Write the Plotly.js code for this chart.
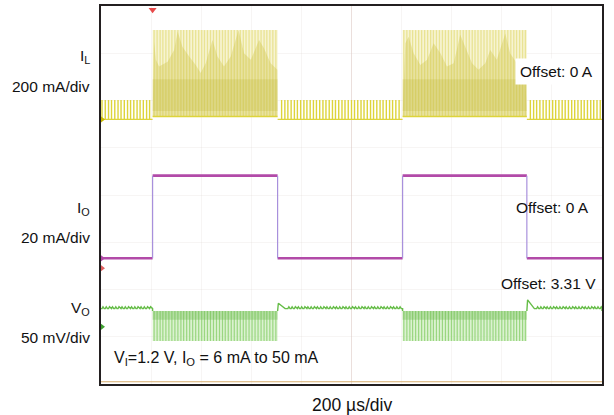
<!DOCTYPE html>
<html><head><meta charset="utf-8">
<script src="https://cdn.plot.ly/plotly-3.0.1.min.js"></script>
<style>html,body{margin:0;padding:0;background:#fff}#chart{width:614px;height:415px}</style>
</head><body><div id="chart"></div>
<script>
// Horizontal axis: time in µs (10 div x 200 µs). Vertical axis: screen divisions (8 div).
const timeRange = [0, 2000];
const divRange = [0, 8];

// Load step instants (µs): rise, fall, rise, fall
const loadEdgesT = [206, 705, 1204, 1700];

// I_O trace levels (div)
const ioLowDiv = 2.66;
const ioHighDiv = 4.41;

// I_L trace
const ilBaseDiv = 5.60;
const ilLightPeakDiv = 6.01;
const ilBurstTopDiv = 7.49;
const ilBurstBottomDiv = 5.66;
const ilCoreTopDiv = 6.45;
const ilCoreBottomDiv = 5.78;
const ilLightT = [4,17,30,42,55,68,80,93,106,118,131,144,156,169,182,194,
  721,734,746,759,772,784,797,810,822,835,848,860,873,886,898,911,924,936,949,962,974,987,
  1000,1012,1025,1038,1050,1063,1076,1088,1101,1114,1126,1139,1152,1164,1177,1190,
  1714,1727,1739,1752,1765,1777,1790,1803,1815,1828,1841,1853,1866,1879,1891,1904,1917,1929,1942,1955,1967,1980,1993];
const burstT = [212,224,236,247,259,271,283,295,307,319,330,342,354,366,378,390,402,413,425,437,449,461,473,485,496,508,520,532,544,556,568,579,591,603,615,627,639,651,662,674,686,698,
  1209,1221,1233,1244,1256,1268,1280,1292,1304,1316,1327,1339,1351,1363,1375,1387,1399,1410,1422,1434,1446,1458,1470,1482,1493,1505,1517,1529,1541,1553,1565,1576,1588,1600,1612,1624,1636,1648,1659,1671,1683,1694];
const ilEnvT1 = [212,219,232,266,292,306,325,352,378,398,418,445,465,491,518,549,571,598,631,651,677,704];
const ilEnvV1 = [7.24,6.86,6.72,6.82,7.07,7.46,7.14,6.93,6.75,6.58,6.79,7.28,6.93,6.72,6.93,7.49,7.00,6.86,7.28,7.10,6.79,6.65];
const ilEnvT2 = [1215,1228,1248,1275,1302,1328,1355,1381,1408,1434,1454,1481,1507,1534,1554,1580,1614,1633,1660,1693];
const ilEnvV2 = [7.21,7.35,7.00,6.75,6.86,7.21,7.00,6.72,6.79,7.39,7.14,6.79,6.65,6.79,7.07,6.86,7.42,7.00,6.79,6.65];

// V_O trace
const voBaseDiv = 1.595;
const voRippleDiv = 1.635;
const voBurstTopDiv = 1.545;
const voBurstBottomDiv = 0.91;
const voBandBottomDiv = 1.36;
const voSpikeV = [1.71, 1.78];

// Labels
const chLabels = ['I<sub>L</sub>', 'I<sub>O</sub>', 'V<sub>O</sub>'];
const scaleLabels = ['200 mA/div', '20 mA/div', '50 mV/div'];
const offsetLabels = ['Offset: 0 A', 'Offset: 0 A', 'Offset: 3.31 V'];
const caption = 'V<sub>I</sub>=1.2 V, I<sub>O</sub> = 6 mA to 50 mA';
const xLabel = '200 \u00b5s/div';

const C = {
  il: '#ddd43a', ilFill: '#f7f4d2', ilStripe: '#e9e394',
  ilEnv: 'rgba(205,195,70,0.36)', ilCore: 'rgba(190,180,50,0.24)',
  io: '#b24aa8', ioEdge: '#a890dc',
  vo: '#66bd48', voFill: 'rgba(190,232,170,0.55)', voStripe: '#9ad680', voBand: 'rgba(110,185,80,0.35)'
};

const traces = [];
const bursts = [[loadEdgesT[0], loadEdgesT[1]], [loadEdgesT[2], loadEdgesT[3]]];
const quiet = [[timeRange[0], loadEdgesT[0], null], [loadEdgesT[1], loadEdgesT[2], voSpikeV[0]], [loadEdgesT[3], timeRange[1], voSpikeV[1]]];

// ---- I_L ----
bursts.forEach(([a, b]) => {
  traces.push({x:[a,a,b,b], y:[ilBurstBottomDiv,ilBurstTopDiv,ilBurstTopDiv,ilBurstBottomDiv], fill:'toself', fillcolor:C.ilFill, mode:'lines', line:{width:0}});
});
{
  const x = [], y = [];
  burstT.forEach(t => { x.push(t, t, null); y.push(ilBurstBottomDiv, ilBurstTopDiv, null); });
  traces.push({x, y, mode:'lines', line:{color:C.ilStripe, width:1.3}});
}
[[ilEnvT1, ilEnvV1, bursts[0]], [ilEnvT2, ilEnvV2, bursts[1]]].forEach(([T, V, [a, b]]) => {
  traces.push({x:[a, ...T, b], y:[ilBurstBottomDiv, ...V, ilBurstBottomDiv], fill:'toself', fillcolor:C.ilEnv, mode:'lines', line:{width:0}});
  traces.push({x:[a,a,b,b], y:[ilCoreBottomDiv,ilCoreTopDiv,ilCoreTopDiv,ilCoreBottomDiv], fill:'toself', fillcolor:C.ilCore, mode:'lines', line:{width:0}});
  traces.push({x:[a, b], y:[ilBurstBottomDiv, ilBurstBottomDiv], mode:'lines', line:{color:C.il, width:1.5}});
});
{
  const x = [], y = [];
  quiet.forEach(([a, b]) => { x.push(a, b, null); y.push(ilBaseDiv, ilBaseDiv, null); });
  ilLightT.forEach(t => { x.push(t, t, null); y.push(ilBaseDiv, ilLightPeakDiv, null); });
  traces.push({x, y, mode:'lines', line:{color:C.il, width:1.4}});
}

// ---- I_O ----
{
  const x = [], y = [];
  const lv = [ioLowDiv, ioHighDiv, ioLowDiv, ioHighDiv, ioLowDiv];
  const pts = [timeRange[0], ...loadEdgesT, timeRange[1]];
  for (let i = 0; i < pts.length - 1; i++) { x.push(pts[i], pts[i+1], null); y.push(lv[i], lv[i], null); }
  traces.push({x, y, mode:'lines', line:{color:C.io, width:2.6}});
  const ex = [], ey = [];
  loadEdgesT.forEach(t => { ex.push(t, t, null); ey.push(ioLowDiv, ioHighDiv, null); });
  traces.push({x:ex, y:ey, mode:'lines', line:{color:C.ioEdge, width:1.2}});
}

// ---- V_O ----
bursts.forEach(([a, b]) => {
  traces.push({x:[a,a,b,b], y:[voBurstBottomDiv,voBurstTopDiv,voBurstTopDiv,voBurstBottomDiv], fill:'toself', fillcolor:C.voFill, mode:'lines', line:{width:0}});
});
{
  const x = [], y = [];
  burstT.forEach(t => { x.push(t, t, null); y.push(voBurstBottomDiv, voBurstTopDiv, null); });
  traces.push({x, y, mode:'lines', line:{color:C.voStripe, width:1.2}});
}
bursts.forEach(([a, b]) => {
  traces.push({x:[a,a,b,b], y:[voBandBottomDiv,voBurstTopDiv,voBurstTopDiv,voBandBottomDiv], fill:'toself', fillcolor:C.voBand, mode:'lines', line:{width:0}});
});
{
  const x = [], y = [];
  quiet.forEach(([a, b, spike]) => {
    if (spike !== null) { x.push(a, a + 3, a + 30); y.push(voBurstTopDiv, spike, voBaseDiv); }
    else { x.push(a); y.push(voBaseDiv); }
    ilLightT.filter(t => t > (spike !== null ? a + 30 : a) && t < b - 4).forEach(t => { x.push(t, t + 4, t + 9); y.push(voBaseDiv, voRippleDiv, voBaseDiv); });
    x.push(b, b, null); y.push(voBaseDiv, voBurstTopDiv, null);
  });
  traces.push({x, y, mode:'lines', line:{color:C.vo, width:1.4}});
}

// channel markers
traces.push({x:[0,0,0,0], y:[ilBaseDiv, ioLowDiv, 2.45, 1.21], mode:'markers', cliponaxis:false,
  marker:{symbol:'triangle-right', size:8, color:['#c8b800', C.io, '#e06060', '#3fa030']}});
traces.push({x:[loadEdgesT[0]], y:[7.92], mode:'markers', cliponaxis:false, marker:{symbol:'triangle-down', size:7, color:'#e84a4a'}});

const font = {family:'Arial, "Liberation Sans", sans-serif', size:15.5, color:'#111'};
const L = 101, W = 501, T = 6, H = 378;
const px = v => (v - L) / W, py = v => (384 - v) / H;
const ann = [];
const chY = [57, 208, 308], scY = [86, 237, 337];
chLabels.forEach((s, i) => ann.push({text:s, x:px(92), y:py(chY[i]), xanchor:'right', yanchor:'middle'}));
scaleLabels.forEach((s, i) => ann.push({text:s, x:px(92), y:py(scY[i]), xanchor:'right', yanchor:'middle'}));
const offX = [556, 552, 548.5], offY = [71, 207, 283];
offsetLabels.forEach((s, i) => ann.push({text:s, x:px(offX[i]), y:py(offY[i]), xanchor:'center', yanchor:'middle',
  bgcolor: i === 0 ? '#ffffff' : 'rgba(0,0,0,0)', borderpad: i === 0 ? 4 : 0}));
ann.push({text:caption, x:px(112), y:py(358), xanchor:'left', yanchor:'middle', font:{...font, size:16}});
ann.push({text:xLabel, x:px(352), y:py(405), xanchor:'center', yanchor:'middle', font:{...font, size:17.5}});
ann.forEach(a => { a.xref = 'paper'; a.yref = 'paper'; a.showarrow = false; if (!a.font) a.font = font; });

const layout = {
  width:614, height:415,
  margin:{l:L, r:614 - L - W, t:T, b:415 - T - H},
  paper_bgcolor:'#ffffff', plot_bgcolor:'#ffffff',
  showlegend:false,
  xaxis:{range:timeRange, dtick:200, showticklabels:false, ticks:'', zeroline:false,
    showgrid:true, gridcolor:'rgba(215,205,200,0.2)', showline:true, mirror:true, linecolor:'#231f20', linewidth:2},
  yaxis:{range:divRange, dtick:1, showticklabels:false, ticks:'', zeroline:false,
    showgrid:true, gridcolor:'rgba(215,205,200,0.2)', showline:true, mirror:true, linecolor:'#231f20', linewidth:2},
  shapes:[
    {type:'line', xref:'x', yref:'paper', x0:1000, x1:1000, y0:0, y1:1, line:{color:'rgba(225,195,190,0.45)', width:1}, layer:'below'},
    {type:'line', xref:'paper', yref:'paper', x0:0, x1:1, y0:0.006, y1:0.006, line:{color:'#d6ac6c', width:1.2}}
  ],
  annotations:ann
};
Plotly.newPlot('chart', traces, layout, {staticPlot:true, displayModeBar:false});
</script></body></html>
